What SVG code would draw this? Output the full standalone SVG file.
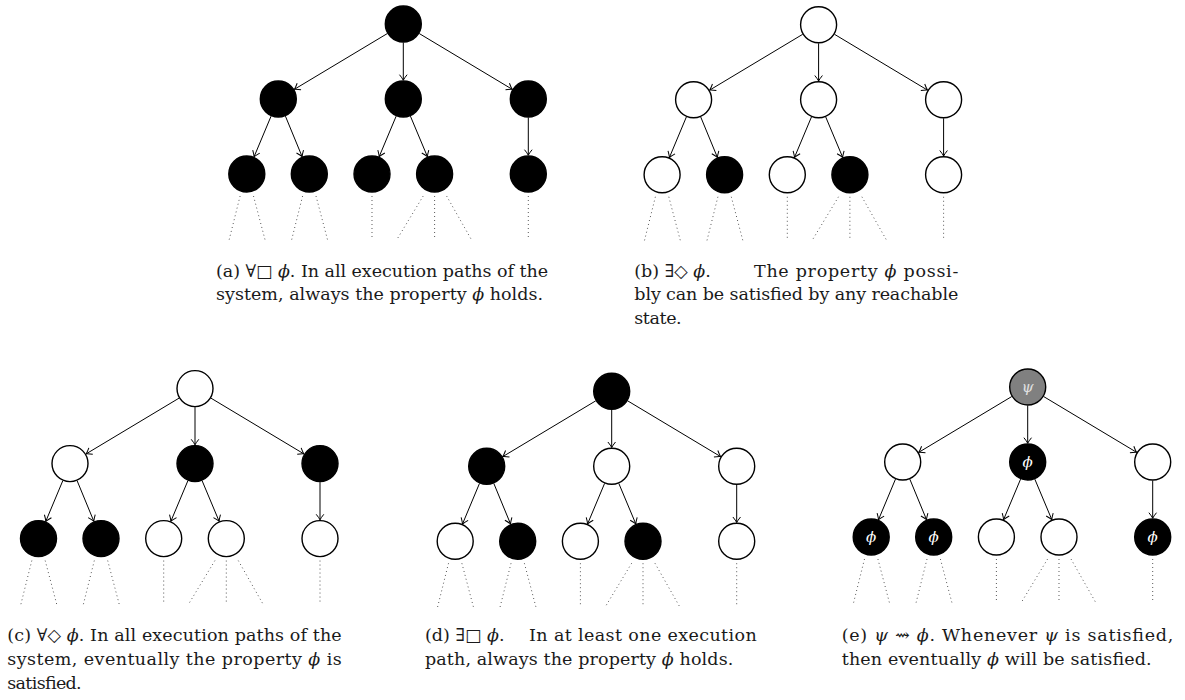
<svg xmlns="http://www.w3.org/2000/svg" xmlns:xlink="http://www.w3.org/1999/xlink" width="1185" height="700" viewBox="0 0 1185 700">
<style>
.w{fill:#fff;stroke:#000;stroke-width:1.4}
.b{fill:#000;stroke:#000;stroke-width:1.4}
.g{fill:#808080;stroke:#000;stroke-width:1.4}
.e{stroke:#000;stroke-width:1;fill:none;marker-end:url(#ah)}
.d{stroke:#444;stroke-width:1;fill:none;stroke-dasharray:0.9 3.1}
.cap{font-family:"DejaVu Serif","Liberation Serif",serif;font-size:17.5px;fill:#1a1a1a}
.m{font-style:italic}
.lbl{font-family:"DejaVu Serif","Liberation Serif",serif;font-style:italic;font-size:15px;text-anchor:middle;dominant-baseline:central}
</style>
<defs>
<marker id="ah" markerUnits="userSpaceOnUse" markerWidth="12" markerHeight="12" refX="0" refY="0" viewBox="-7 -6 8 12" orient="auto">
<path d="M-5.5,-3.8 Q-2,-1 0,0 Q-2,1 -5.5,3.8" fill="none" stroke="#000" stroke-width="1"/>
</marker>
<g id="edges">
<line class="e" x1="-15.9" y1="9.5" x2="-108.9" y2="65.3"/>
<line class="e" x1="0" y1="18.5" x2="0" y2="56.2"/>
<line class="e" x1="15.9" y1="9.5" x2="108.9" y2="65.3"/>
<line class="e" x1="-132.2" y1="92.1" x2="-149.2" y2="132.7"/>
<line class="e" x1="-117.9" y1="92.1" x2="-101.2" y2="132.6"/>
<line class="e" x1="-7.1" y1="92.1" x2="-24.1" y2="132.6"/>
<line class="e" x1="7.1" y1="92.1" x2="24.1" y2="132.6"/>
<line class="e" x1="125" y1="93.5" x2="125" y2="131.2"/>
<line class="d" x1="-163.2" y1="172" x2="-174.2" y2="216"/>
<line class="d" x1="-149.8" y1="172" x2="-138.2" y2="216"/>
<line class="d" x1="-100.7" y1="172" x2="-111.7" y2="216"/>
<line class="d" x1="-87.3" y1="172" x2="-75.7" y2="216"/>
<line class="d" x1="-31.3" y1="172" x2="-31.3" y2="216"/>
<line class="d" x1="19.9" y1="172" x2="-6.7" y2="216"/>
<line class="d" x1="31.3" y1="172" x2="31.3" y2="216"/>
<line class="d" x1="43.3" y1="172" x2="68.3" y2="216"/>
<line class="d" x1="125" y1="172" x2="125" y2="216"/>
</g>
</defs>

<!-- (a) -->
<g id="tree-a" transform="translate(403.3,24)">
<g id="a-connectors"><use href="#edges"/></g>
<g id="a-n0"><circle class="b" cx="0" cy="0" r="18"/></g>
<g id="a-n1"><circle class="b" cx="-125" cy="75" r="18"/></g>
<g id="a-n2"><circle class="b" cx="0" cy="75" r="18"/></g>
<g id="a-n3"><circle class="b" cx="125" cy="75" r="18"/></g>
<g id="a-l0"><circle class="b" cx="-156.5" cy="150" r="18"/></g>
<g id="a-l1"><circle class="b" cx="-94" cy="150" r="18"/></g>
<g id="a-l2"><circle class="b" cx="-31.3" cy="150" r="18"/></g>
<g id="a-l3"><circle class="b" cx="31.3" cy="150" r="18"/></g>
<g id="a-l4"><circle class="b" cx="125" cy="150" r="18"/></g>
</g>

<!-- (b) -->
<g id="tree-b" transform="translate(818.6,24.8)">
<g id="b-connectors"><use href="#edges"/></g>
<g id="b-n0"><circle class="w" cx="0" cy="0" r="18"/></g>
<g id="b-n1"><circle class="w" cx="-125" cy="75" r="18"/></g>
<g id="b-n2"><circle class="w" cx="0" cy="75" r="18"/></g>
<g id="b-n3"><circle class="w" cx="125" cy="75" r="18"/></g>
<g id="b-l0"><circle class="w" cx="-156.5" cy="150" r="18"/></g>
<g id="b-l1"><circle class="b" cx="-94" cy="150" r="18"/></g>
<g id="b-l2"><circle class="w" cx="-31.3" cy="150" r="18"/></g>
<g id="b-l3"><circle class="b" cx="31.3" cy="150" r="18"/></g>
<g id="b-l4"><circle class="w" cx="125" cy="150" r="18"/></g>
</g>

<!-- (c) -->
<g id="tree-c" transform="translate(195,388.6)">
<g id="c-connectors"><use href="#edges"/></g>
<g id="c-n0"><circle class="w" cx="0" cy="0" r="18"/></g>
<g id="c-n1"><circle class="w" cx="-125" cy="75" r="18"/></g>
<g id="c-n2"><circle class="b" cx="0" cy="75" r="18"/></g>
<g id="c-n3"><circle class="b" cx="125" cy="75" r="18"/></g>
<g id="c-l0"><circle class="b" cx="-156.5" cy="150" r="18"/></g>
<g id="c-l1"><circle class="b" cx="-94" cy="150" r="18"/></g>
<g id="c-l2"><circle class="w" cx="-31.3" cy="150" r="18"/></g>
<g id="c-l3"><circle class="w" cx="31.3" cy="150" r="18"/></g>
<g id="c-l4"><circle class="w" cx="125" cy="150" r="18"/></g>
</g>

<!-- (d) -->
<g id="tree-d" transform="translate(611.7,391.3)">
<g id="d-connectors"><use href="#edges"/></g>
<g id="d-n0"><circle class="b" cx="0" cy="0" r="18"/></g>
<g id="d-n1"><circle class="b" cx="-125" cy="75" r="18"/></g>
<g id="d-n2"><circle class="w" cx="0" cy="75" r="18"/></g>
<g id="d-n3"><circle class="w" cx="125" cy="75" r="18"/></g>
<g id="d-l0"><circle class="w" cx="-156.5" cy="150" r="18"/></g>
<g id="d-l1"><circle class="b" cx="-94" cy="150" r="18"/></g>
<g id="d-l2"><circle class="w" cx="-31.3" cy="150" r="18"/></g>
<g id="d-l3"><circle class="b" cx="31.3" cy="150" r="18"/></g>
<g id="d-l4"><circle class="w" cx="125" cy="150" r="18"/></g>
</g>

<!-- (e) -->
<g id="tree-e" transform="translate(1027.7,387)">
<g id="e-connectors"><use href="#edges"/></g>
<g id="e-n0"><circle class="g" cx="0" cy="0" r="18"/><text class="lbl" x="0" y="0" fill="#e0e0e0">ψ</text></g>
<g id="e-n1"><circle class="w" cx="-125" cy="75" r="18"/></g>
<g id="e-n2"><circle class="b" cx="0" cy="75" r="18"/><text class="lbl" x="0" y="75" fill="#fff">ϕ</text></g>
<g id="e-n3"><circle class="w" cx="125" cy="75" r="18"/></g>
<g id="e-l0"><circle class="b" cx="-156.5" cy="150" r="18"/><text class="lbl" x="-156.5" y="150" fill="#fff">ϕ</text></g>
<g id="e-l1"><circle class="b" cx="-94" cy="150" r="18"/><text class="lbl" x="-94" y="150" fill="#fff">ϕ</text></g>
<g id="e-l2"><circle class="w" cx="-31.3" cy="150" r="18"/></g>
<g id="e-l3"><circle class="w" cx="31.3" cy="150" r="18"/></g>
<g id="e-l4"><circle class="b" cx="125" cy="150" r="18"/><text class="lbl" x="125" y="150" fill="#fff">ϕ</text></g>
</g>

<!-- captions -->
<g id="captions">
<text class="cap" x="216" y="276.5" textLength="332" lengthAdjust="spacing">(a) ∀□ <tspan class="m">ϕ</tspan>. In all execution paths of the</text>
<text class="cap" x="216" y="299.5" textLength="327" lengthAdjust="spacing">system, always the property <tspan class="m">ϕ</tspan> holds.</text>

<text class="cap" x="634.3" y="276.5">(b)  ∃◇ <tspan class="m">ϕ</tspan>.</text>
<text class="cap" x="754" y="276.5" textLength="204.3" lengthAdjust="spacing">The property <tspan class="m">ϕ</tspan> possi-</text>
<text class="cap" x="634.3" y="300" textLength="324" lengthAdjust="spacing">bly can be satisfied by any reachable</text>
<text class="cap" x="634.3" y="323.5" textLength="47.4" lengthAdjust="spacing">state.</text>

<text class="cap" x="7.3" y="641" textLength="334.4" lengthAdjust="spacing">(c) ∀◇ <tspan class="m">ϕ</tspan>. In all execution paths of the</text>
<text class="cap" x="7.3" y="665" textLength="334.4" lengthAdjust="spacing">system, eventually the property <tspan class="m">ϕ</tspan> is</text>
<text class="cap" x="7.3" y="689" textLength="74.4" lengthAdjust="spacing">satisfied.</text>

<text class="cap" x="425" y="641">(d)  ∃□ <tspan class="m">ϕ</tspan>.</text>
<text class="cap" x="529" y="641" textLength="227.7" lengthAdjust="spacing">In at least one execution</text>
<text class="cap" x="425" y="665" textLength="308.3" lengthAdjust="spacing">path, always the property <tspan class="m">ϕ</tspan> holds.</text>

<text class="cap" x="841.7" y="641" textLength="331.6" lengthAdjust="spacing">(e) <tspan class="m">ψ</tspan> ⇝ <tspan class="m">ϕ</tspan>. Whenever <tspan class="m">ψ</tspan> is satisfied,</text>
<text class="cap" x="841.7" y="665" textLength="310" lengthAdjust="spacing">then eventually <tspan class="m">ϕ</tspan> will be satisfied.</text>
</g>
</svg>
